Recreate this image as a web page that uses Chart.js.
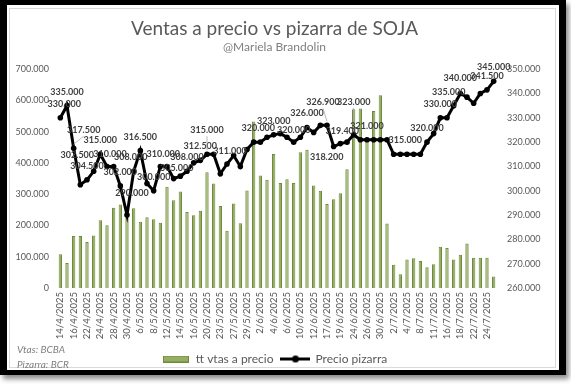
<!DOCTYPE html>
<html><head><meta charset="utf-8">
<script src="https://cdn.jsdelivr.net/npm/chart.js@4.4.1/dist/chart.umd.min.js"></script>
<style>
html,body{margin:0;padding:0;background:#fff;width:571px;height:385px;overflow:hidden;}
#frame{position:absolute;left:0;top:0;width:566px;height:375px;box-sizing:border-box;border-style:solid;border-color:#000;border-width:5px 7px 5px 7px;box-shadow:3px 4px 5px rgba(0,0,0,0.45);background:#fff;}
#inner{position:absolute;left:9px;top:8px;width:547px;height:360px;box-sizing:border-box;border:1px solid #d9d9d9;}
#c{position:absolute;left:0;top:0;}
.note{position:absolute;left:17px;font:italic 10px Lato, sans-serif;color:#7f7f7f;}
</style></head><body>
<div id="frame"></div><div id="inner"></div>
<canvas id="c" width="571" height="385"></canvas>
<div class="note" style="top:343px">Vtas: BCBA</div>
<div class="note" style="top:358px">Pizarra: BCR</div>
<script>
const dates = ['14/4/2025','15/4/2025','16/4/2025','21/4/2025','22/4/2025','23/4/2025','24/4/2025','25/4/2025','28/4/2025','29/4/2025','30/4/2025','5/5/2025','6/5/2025','7/5/2025','8/5/2025','9/5/2025','12/5/2025','13/5/2025','14/5/2025','15/5/2025','16/5/2025','19/5/2025','20/5/2025','21/5/2025','23/5/2025','26/5/2025','27/5/2025','28/5/2025','29/5/2025','30/5/2025','2/6/2025','3/6/2025','4/6/2025','5/6/2025','6/6/2025','9/6/2025','10/6/2025','11/6/2025','12/6/2025','13/6/2025','17/6/2025','18/6/2025','19/6/2025','23/6/2025','24/6/2025','25/6/2025','26/6/2025','27/6/2025','30/6/2025','1/7/2025','2/7/2025','3/7/2025','4/7/2025','7/7/2025','8/7/2025','10/7/2025','11/7/2025','15/7/2025','16/7/2025','17/7/2025','18/7/2025','21/7/2025','22/7/2025','23/7/2025','24/7/2025','25/7/2025'];

const ventas = [108000,80000,166000,166000,147000,168000,217000,201000,257000,267000,
  235000,255000,212000,226000,220000,209000,324000,281000,309000,243000,
  233000,247000,370000,334000,262000,183000,270000,207000,312000,533000,
  360000,346000,429000,336000,348000,336000,434000,442000,328000,311000,
  269000,284000,303000,380000,572000,574000,470000,566000,617000,206000,
  74000,44000,91000,95000,86000,66000,76000,132000,128000,91000,
  106000,142000,97000,97000,97000,37000];

const precio = [330000,335000,317500,302500,304500,308000,315000,310000,310000,302000,
  290000,308000,316500,303000,300000,310000,310000,305000,306000,308000,
  311500,312500,315000,315000,307000,311000,314500,310000,317000,320000,
  320000,322000,323000,323500,322000,320000,322000,326000,324000,326900,
  326900,318200,319400,320000,323000,321000,321000,321000,321000,321000,
  315000,315000,315000,315000,315000,320000,323500,330000,330000,335000,
  340000,338500,336000,340000,341500,345000];

const leftTicks = {min:0, max:700000, step:100000};
const rightTicks = {min:260000, max:350000, step:10000};

// indices of points carrying a value label
const labelIdx = [0,1,2,3,4,6,7,9,10,11,12,14,15,17,19,21,22,25,30,32,35,37,40,41,42,44,46,51,55,57,59,60,64,65];
// label placement relative to the point: [dx, dy, leaderLine]
const labelOffsets = {0:[4,-14],2:[10,-18,1],3:[-3,-30],7:[3,-12],10:[5,-22],11:[-3,-14],15:[3,-12],17:[3,-11],
  22:[0,-24,1],25:[3,-13],30:[-2,-14],35:[0,-12],40:[-4,-23,1],41:[-7,11],42:[2,-12],44:[0,-33,1],51:[5,-14],59:[-5,-14],60:[0,-15]};

const fmt = v => String(v).replace(/\B(?=(\d{3})+(?!\d))/g, '.');

Chart.defaults.font.family = 'Lato, sans-serif';
Chart.defaults.color = '#595959';

const BAR_FILL = '#96ae62', BAR_EDGE = '#6f8a3c';

const boxImg = document.createElement('canvas');
boxImg.width = 26; boxImg.height = 7;
(function(){const g=boxImg.getContext('2d');g.fillStyle=BAR_FILL;g.fillRect(0,0,26,7);g.strokeStyle=BAR_EDGE;g.lineWidth=1;g.strokeRect(0.5,0.5,25,6);})();
const lineImg = document.createElement('canvas');
lineImg.width = 30; lineImg.height = 9;
(function(){const g=lineImg.getContext('2d');g.strokeStyle='#000';g.lineWidth=3;g.beginPath();g.moveTo(0,4.5);g.lineTo(30,4.5);g.stroke();g.fillStyle='#000';g.beginPath();g.arc(15,4.5,3.5,0,Math.PI*2);g.fill();})();

const dataLabels = {
  id:'dataLabels',
  afterDatasetsDraw(chart){
    const meta = chart.getDatasetMeta(1);
    const ctx = chart.ctx;
    ctx.save();
    ctx.font = 'bold 9px Lato, sans-serif';
    ctx.fillStyle = '#404040';
    ctx.textAlign = 'center';
    ctx.textBaseline = 'middle';
    labelIdx.forEach(i => {
      const p = meta.data[i];
      const o = labelOffsets[i] || [0,-14];
      const x = p.x + o[0], y = p.y + o[1];
      if (o[2]) {
        ctx.strokeStyle = '#a6a6a6'; ctx.lineWidth = 0.8;
        ctx.beginPath(); ctx.moveTo(x, y + 6); ctx.lineTo(p.x, p.y - 4); ctx.stroke();
      }
      ctx.fillText(fmt(precio[i]), x, y);
    });
    ctx.restore();
  }
};

const noGrid = {display:false, drawTicks:false};

new Chart(document.getElementById('c'), {
  data: {
    labels: dates,
    datasets: [
      {type:'bar', label:'tt vtas a precio', data: ventas, yAxisID:'y',
       backgroundColor: BAR_FILL, borderColor: BAR_EDGE, borderWidth: 1,
       categoryPercentage: 1, barPercentage: 0.5, order: 2},
      {type:'line', label:'Precio pizarra', data: precio, yAxisID:'y1',
       borderColor:'#000', backgroundColor:'#000', borderWidth:3,
       pointRadius:2.8, pointBackgroundColor:'#000', pointBorderWidth:0, tension:0, order: 1}
    ]
  },
  options: {
    responsive:false, animation:false,
    layout:{padding:{top:10,left:0,right:22,bottom:10}},
    plugins:{
      title:{display:true, text:'Ventas a precio vs pizarra de SOJA', color:'#595959',
        font:{size:19, weight:'normal', lineHeight:1.2}, padding:{top:7,bottom:0}},
      subtitle:{display:true, text:'@Mariela Brandolin', color:'#7f7f7f',
        font:{size:12, lineHeight:1.2}, padding:{top:0,bottom:15}},
      legend:{position:'bottom', labels:{usePointStyle:true, pointStyleWidth:28, padding:8,
        color:'#595959', font:{size:12},
        sort:(a,b)=>a.datasetIndex-b.datasetIndex,
        generateLabels(chart){
          const items = Chart.defaults.plugins.legend.labels.generateLabels(chart);
          items.forEach(it => { it.pointStyle = it.datasetIndex === 0 ? boxImg : lineImg; });
          return items;
        }}},
      tooltip:{enabled:false}
    },
    scales:{
      x:{grid:noGrid, border:{display:false},
        ticks:{autoSkip:false, maxRotation:90, minRotation:90, padding:4, font:{size:9.5},
          callback:(v,i)=> i%2===0 ? dates[i] : null},
        afterFit(s){s.height=57;}},
      y:{position:'left', min:leftTicks.min, max:leftTicks.max, grid:noGrid, border:{display:false},
        ticks:{stepSize:leftTicks.step, padding:8, font:{size:9}, callback:v=>fmt(v)},
        afterFit(s){s.width=57;}},
      y1:{position:'right', min:rightTicks.min, max:rightTicks.max, grid:noGrid, border:{display:false},
        ticks:{stepSize:rightTicks.step, padding:10, font:{size:9}, callback:v=>fmt(v)},
        afterFit(s){s.width=52;}}
    }
  },
  plugins:[dataLabels]
});
</script>
</body></html>
